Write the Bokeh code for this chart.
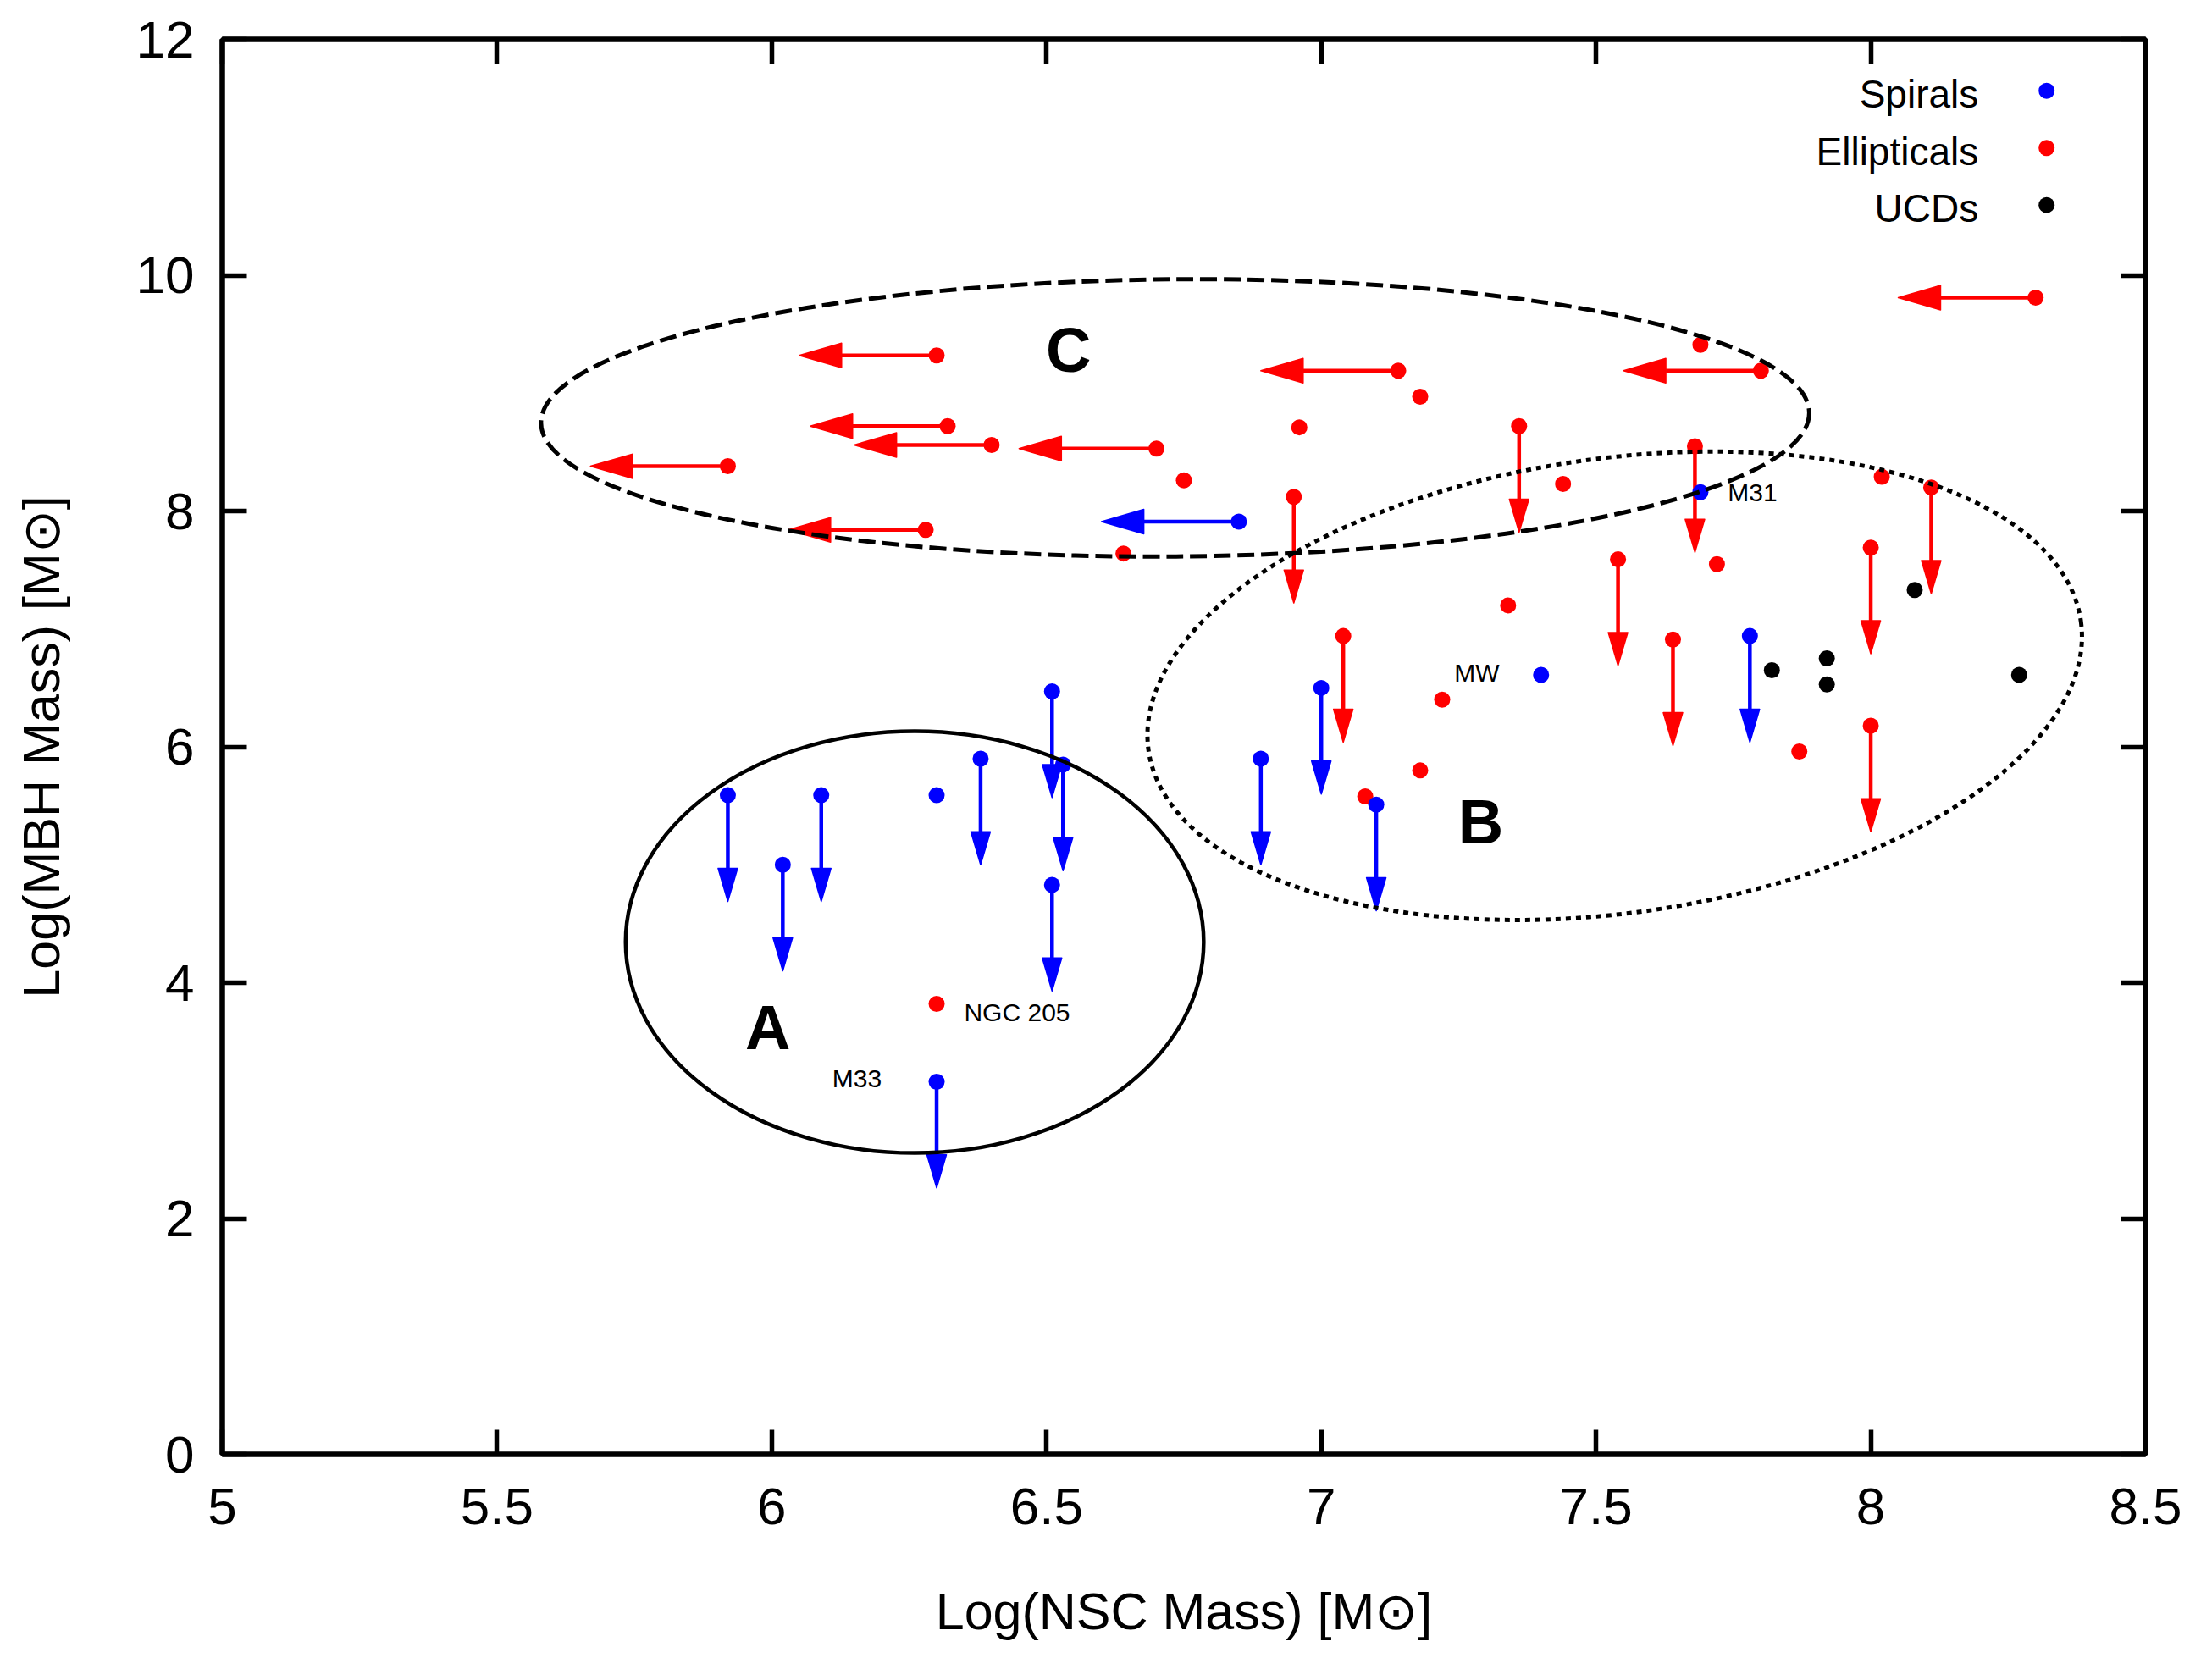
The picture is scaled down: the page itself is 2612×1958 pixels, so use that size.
import numpy as np
from bokeh.plotting import figure
from bokeh.models import LinearAxis, FixedTicker, NumeralTickFormatter, CustomJSTickFormatter, Label
from bokeh.embed import file_html
from bokeh.resources import INLINE

# ---- data: log NSC mass (x) and log MBH mass (y) ----
# Ellipticals, measured
ell_x = [6.75, 6.64, 6.96, 7.18, 7.44, 7.69, 7.72, 7.34, 7.22, 7.18, 7.08, 8.02, 7.87, 6.30]
ell_y = [8.26, 7.64, 8.71, 8.97, 8.23, 9.41, 7.55, 7.20, 6.40, 5.80, 5.58, 8.29, 5.96, 3.82]
# Ellipticals, NSC mass upper limits
ell_xlim_x = [6.30, 6.32, 6.40, 5.92, 6.28, 6.70, 7.14, 7.80, 8.30]
ell_xlim_y = [9.32, 8.72, 8.56, 8.38, 7.84, 8.53, 9.19, 9.19, 9.81]
# Ellipticals, MBH mass upper limits
ell_ylim_x = [6.95, 7.36, 7.68, 8.11, 7.04, 7.54, 7.64, 8.00, 8.00]
ell_ylim_y = [8.12, 8.72, 8.55, 8.20, 6.94, 7.59, 6.91, 7.69, 6.18]

# Spirals, measured
spi_x = [6.30, 7.40, 7.69]
spi_y = [5.59, 6.61, 8.16]
# Spirals, NSC mass upper limits
spi_xlim_x = [6.85]
spi_xlim_y = [7.91]
# Spirals, MBH mass upper limits
spi_ylim_x = [5.92, 6.02, 6.09, 6.38, 6.51, 6.53, 6.51, 6.30, 6.89, 7.00, 7.10, 7.78]
spi_ylim_y = [5.59, 5.00, 5.59, 5.90, 6.47, 5.85, 4.83, 3.16, 5.90, 6.50, 5.51, 6.94]

# UCDs
ucd_x = [8.08, 7.82, 7.92, 7.92, 8.27]
ucd_y = [7.33, 6.65, 6.75, 6.53, 6.61]

# named objects
obj_names = ["NGC 205", "M33", "MW", "M31"]
obj_x = [6.35, 6.11, 7.242, 7.74]
obj_y = [3.75, 3.19, 6.63, 8.16]

# regions A, B, C: centre, full width/height (data units), tilt (rad)
reg_names = ["A", "B", "C"]
reg_cx = [6.260, 7.534, 6.734]
reg_cy = [4.344, 6.518, 8.790]
reg_w = [1.052, 1.713, 2.308]
reg_h = [3.578, 3.858, 2.351]
reg_angle = [0.0, 0.137, 0.008]
reg_dash = ["solid", "6 6", "20 8"]
reg_lw = [4.5, 5, 5]
reg_label_x = [5.993, 7.290, 6.540]
reg_label_y = [3.62, 5.364, 9.362]

legend_names = ["Spirals", "Ellipticals", "UCDs"]
legend_colors = ["#0000ff", "#ff0000", "#000000"]

x_ticks = [5, 5.5, 6, 6.5, 7, 7.5, 8, 8.5]
y_ticks = [0, 2, 4, 6, 8, 10, 12]

x_title = "Log(NSC Mass) [M\u2299]"
y_title = "Log(MBH Mass) [M\u2299]"

BLUE, RED, BLACK = "#0000ff", "#ff0000", "#000000"
FONT = "Liberation Sans"

# limit-arrow geometry (data units)
XLIM_LEN, YLIM_LEN = 0.25, 0.90
H_HEAD_LEN, H_HEAD_HW = 0.077, 0.104
V_HEAD_LEN, V_HEAD_HW = 0.28, 0.0177

p = figure(width=2612, height=1958, x_range=(5, 8.5), y_range=(0, 12),
           output_backend="svg", toolbar_location=None,
           min_border_left=262, min_border_right=79, min_border_top=46, min_border_bottom=241)
p.xgrid.visible = False
p.ygrid.visible = False
p.outline_line_color = "black"
p.outline_line_width = 6
p.background_fill_color = "white"
p.border_fill_color = "white"

def style_axis(ax, ticks, show_labels):
    ax.ticker = FixedTicker(ticks=ticks)
    ax.axis_line_width = 6
    ax.axis_line_color = "black"
    ax.major_tick_in = 29
    ax.major_tick_out = 0
    ax.major_tick_line_width = 5.5
    ax.major_tick_line_color = "black"
    ax.minor_tick_line_color = None
    if show_labels:
        ax.formatter = NumeralTickFormatter(format="0.[0]")
        ax.major_label_text_font = FONT
        ax.major_label_text_font_size = "62px"
        ax.major_label_text_color = "black"
        ax.axis_label_text_font = FONT
        ax.axis_label_text_font_size = "61px"
        ax.axis_label_text_font_style = "normal"
        ax.axis_label_text_color = "black"
    else:
        ax.formatter = CustomJSTickFormatter(code="return ''")
        ax.major_label_standoff = 0

style_axis(p.xaxis[0], x_ticks, True)
style_axis(p.yaxis[0], y_ticks, True)
p.xaxis[0].major_label_standoff = 40
p.yaxis[0].major_label_standoff = 33
p.xaxis[0].axis_label = x_title
p.yaxis[0].axis_label = y_title
p.xaxis[0].axis_label_standoff = 66
p.yaxis[0].axis_label_standoff = 75

top_ax = LinearAxis()
right_ax = LinearAxis()
style_axis(top_ax, x_ticks, False)
style_axis(right_ax, y_ticks, False)
p.add_layout(top_ax, "above")
p.add_layout(right_ax, "right")

def left_arrows(xs, ys, color):
    x0 = np.asarray(xs, float)
    y0 = np.asarray(ys, float)
    tip = x0 - XLIM_LEN
    base = tip + H_HEAD_LEN
    p.segment(x0, y0, base, y0, line_color=color, line_width=4.5)
    p.patches([[t, b, b] for t, b in zip(tip, base)],
              [[y, y + H_HEAD_HW, y - H_HEAD_HW] for y in y0],
              fill_color=color, line_color=color, line_width=1.5, line_join="round")

def down_arrows(xs, ys, color):
    x0 = np.asarray(xs, float)
    y0 = np.asarray(ys, float)
    tip = y0 - YLIM_LEN
    base = tip + V_HEAD_LEN
    p.segment(x0, y0, x0, base, line_color=color, line_width=4.5)
    p.patches([[x, x - V_HEAD_HW, x + V_HEAD_HW] for x in x0],
              [[t, b, b] for t, b in zip(tip, base)],
              fill_color=color, line_color=color, line_width=1.5, line_join="round")

left_arrows(ell_xlim_x, ell_xlim_y, RED)
down_arrows(ell_ylim_x, ell_ylim_y, RED)
left_arrows(spi_xlim_x, spi_xlim_y, BLUE)
down_arrows(spi_ylim_x, spi_ylim_y, BLUE)

DOT = 19
p.scatter(ell_x + ell_xlim_x + ell_ylim_x, ell_y + ell_xlim_y + ell_ylim_y,
          size=DOT, color=RED, line_width=0)
p.scatter(spi_x + spi_xlim_x + spi_ylim_x, spi_y + spi_xlim_y + spi_ylim_y,
          size=DOT, color=BLUE, line_width=0)
p.scatter(ucd_x, ucd_y, size=DOT, color=BLACK, line_width=0)

# region outlines
for cx, cy, w, h, a, d, lw in zip(reg_cx, reg_cy, reg_w, reg_h, reg_angle, reg_dash, reg_lw):
    p.ellipse(x=[cx], y=[cy], width=[w], height=[h], angle=[a],
              fill_color=None, line_color="black", line_width=lw, line_dash=d)

for name, lx, ly in zip(reg_names, reg_label_x, reg_label_y):
    p.add_layout(Label(x=lx, y=ly, text=name, text_font=FONT, text_font_style="bold",
                       text_font_size="74px", text_align="center", text_baseline="middle",
                       text_color="black"))

for name, ox, oy in zip(obj_names, obj_x, obj_y):
    p.add_layout(Label(x=ox, y=oy, text=name, text_font=FONT, text_font_size="30px",
                       text_align="left", text_baseline="middle", text_color="black"))

# legend: labels right-aligned, markers to their right
leg_marker_x = 8.32
leg_text_x = 8.196
leg_y = [11.564, 11.079, 10.595]
p.scatter([leg_marker_x] * 3, leg_y, size=DOT, color=legend_colors, line_width=0)
for name, ly in zip(legend_names, leg_y):
    p.add_layout(Label(x=leg_text_x, y=ly - 0.03, text=name, text_font=FONT, text_font_size="46px",
                       text_align="right", text_baseline="middle", text_color="black"))

open("out.html", "w").write(file_html(p, INLINE))
